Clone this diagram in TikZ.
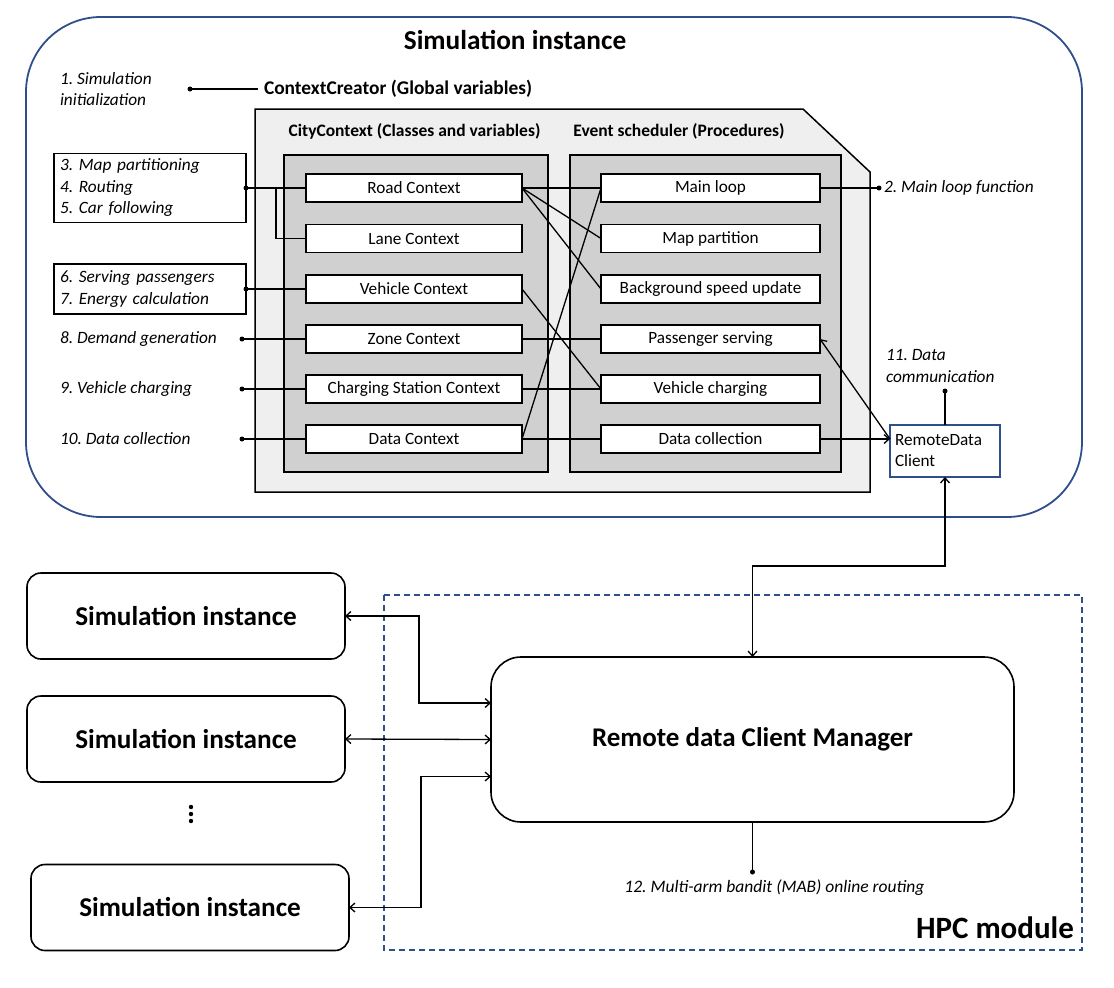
\documentclass[tikz,border=0pt]{standalone}
\usepackage{fontspec}
\setmainfont{Carlito}
\usetikzlibrary{arrows.meta,calc}
\definecolor{dblue}{HTML}{2F4E8C}
\definecolor{lgray}{HTML}{EFEFEF}
\definecolor{mgray}{HTML}{D0D0D0}
\frenchspacing
\begin{document}
\begin{tikzpicture}[x=1pt,y=-1pt,
  >={Straight Barb[length=5pt,width=9pt]},
  every node/.style={inner sep=0pt, outer sep=0pt},
  lab/.style={font=\fontsize{17.3}{21.5}\selectfont\itshape, align=left, anchor=west},
  head/.style={font=\fontsize{17.5}{20}\selectfont\bfseries},
  wbox/.style={draw, line width=1.5pt, fill=white, minimum height=28pt, font=\fontsize{17.2}{20}\selectfont},
  lbox/.style={draw, line width=1.5pt, minimum width=192pt, text width=180pt, align=left, anchor=north west, font=\fontsize{17.3}{21.5}\selectfont\itshape},
  conn/.style={line width=1.3pt},
  dotn/.style={circle, fill, inner sep=0pt, minimum size=5pt},
  simbox/.style={draw, line width=1.6pt, rounded corners=14pt, minimum width=318pt, minimum height=86pt, font=\fontsize{27.2}{32}\selectfont\bfseries}
]
\useasboundingbox (0,0) rectangle (1114,988);

% outer simulation instance
\draw[dblue, line width=1.8pt, rounded corners=75pt] (26,17) rectangle (1082,517);
\node[font=\fontsize{27.3}{32}\selectfont\bfseries] (title) at (515,40) {Simulation instance};

% 1. initialization
\node[lab] (l1) at (60,89) {1. Simulation\\initialization};
\node[dotn] (d1) at (190,89) {};
\node[font=\fontsize{19.4}{22}\selectfont\bfseries, anchor=west] (cc) at (264,89) {ContextCreator (Global variables)};
\draw[conn] (d1.center) -- ([xshift=-6pt]cc.west);

% container
\draw[line width=1.5pt, fill=lgray] (255,109) -- (803,109) -- (870,172) -- (870,492) -- (255,492) -- cycle;
\node[head] (hcity) at (414.5,131) {CityContext (Classes and variables)};
\node[head] (hevent) at (679,131) {Event scheduler (Procedures)};
\draw[line width=1.5pt, fill=mgray] (284,155) rectangle (548,472);
\draw[line width=1.5pt, fill=mgray] (570,155) rectangle (841,472);

% left boxes
\node[wbox, minimum width=216pt] (road) at (414,188) {Road Context};
\node[wbox, minimum width=216pt] (lane) at (414,238.5) {Lane Context};
\node[wbox, minimum width=216pt] (veh) at (414,289) {Vehicle Context};
\node[wbox, minimum width=216pt] (zone) at (414,339) {Zone Context};
\node[wbox, minimum width=216pt] (cs) at (414,389) {Charging Station Context};
\node[wbox, minimum width=216pt] (data) at (414,439) {Data Context};

% right boxes
\node[wbox, minimum width=219pt] (ml) at (710.5,188) {Main loop};
\node[wbox, minimum width=219pt] (mp) at (710.5,238.5) {Map partition};
\node[wbox, minimum width=219pt] (bsu) at (710.5,289) {Background speed update};
\node[wbox, minimum width=219pt] (ps) at (710.5,339) {Passenger serving};
\node[wbox, minimum width=219pt] (vc) at (710.5,389) {Vehicle charging};
\node[wbox, minimum width=219pt] (dc) at (710.5,439) {Data collection};

% middle connectors
\draw[conn] (road.east) -- (ml.west);
\draw[conn] (road.east) -- (mp.west);
\draw[conn] (road.east) -- (bsu.west);
\draw[conn] (veh.east) -- (vc.west);
\draw[conn] (zone.east) -- (ps.west);
\draw[conn] (cs.east) -- (vc.west);
\draw[conn] (data.east) -- (ml.west);
\draw[conn] (data.east) -- (dc.west);

% left labels
\node[lbox, minimum height=69pt] (lb1) at (54,153.5) {3. Map partitioning\\4. Routing\\5. Car following};
\node[lbox, minimum height=50pt] (lb2) at (54,264) {6. Serving passengers\\7. Energy calculation};
\node[dotn] (d3) at (lb1.east) {};
\node[dotn] (d6) at (lb2.east) {};
\draw[conn] (d3.center) -- (road.west);
\coordinate (br) at (276,188);
\draw[conn] (br) |- (lane.west);
\draw[conn] (d6.center) -- (veh.west);

\node[lab] (l8) at (60,339) {8. Demand generation};
\node[lab] (l9) at (60,389) {9. Vehicle charging};
\node[lab] (l10) at (60,439) {10. Data collection};
\node[dotn] (d8) at (242,339) {};
\node[dotn] (d9) at (242,389) {};
\node[dotn] (d10) at (242,439) {};
\draw[conn] (d8.center) -- (zone.west);
\draw[conn] (d9.center) -- (cs.west);
\draw[conn] (d10.center) -- (data.west);

% right side
\node[dotn] (d2) at (879,188) {};
\node[lab] (l2) at (884,188) {2. Main loop function};
\draw[conn] (ml.east) -- (d2.center);

\node[draw=dblue, line width=1.5pt, fill=white, minimum width=110pt, minimum height=52pt, text width=100pt, align=left, font=\fontsize{17.2}{21}\selectfont, anchor=north west] (rdc) at (890,425) {RemoteData\\Client};
\node[lab] (l11) at (886,366) {11. Data\\communication};
\node[dotn] (d11) at (945,391) {};
\draw[conn] (d11.center) -- (rdc.north);
\coordinate (rin) at (rdc.west |- dc.east);
\draw[conn, ->] (dc.east) -- (rin);
\draw[conn, ->] (rin) -- (ps.east);

% HPC module
\draw[dblue, line width=1.5pt, dash pattern=on 6pt off 4pt] (384,595) rectangle (1082,950);
\node[font=\fontsize{31}{36}\selectfont\bfseries] (hpc) at (995,928) {HPC module};

\node[draw, line width=1.6pt, rounded corners=30pt, minimum width=523pt, minimum height=165pt, font=\fontsize{27}{32}\selectfont\bfseries] (mgr) at (752.5,739.5) {Remote data Client Manager};
\draw[conn, <->] (rdc.south) -- ++(0,89) -| (mgr.north);

\node[dotn] (d12) at (752.5,872) {};
\draw[conn] (mgr.south) -- (d12.center);
\node[font=\fontsize{17.5}{20}\selectfont\itshape] (l12) at (774.5,888) {12. Multi-arm bandit (MAB) online routing};

% simulation instances
\node[simbox] (i1) at (186,616) {Simulation instance};
\node[simbox] (i2) at (186,739) {Simulation instance};
\node[simbox] (i3) at (190,907.5) {Simulation instance};
\fill (191,807) circle (2.2pt);
\fill (191,814) circle (2.2pt);
\fill (191,821) circle (2.2pt);

\coordinate (m1) at ($(mgr.west)+(0,-36.5)$);
\coordinate (m3) at ($(mgr.west)+(0,37)$);
\draw[conn, <->] (i1.east) -- (419,616) |- (m1);
\draw[conn, <->] (i2.east) -- (mgr.west);
\draw[conn, <->] (i3.east) -- (421,907.5) |- (m3);
\end{tikzpicture}
\end{document}
